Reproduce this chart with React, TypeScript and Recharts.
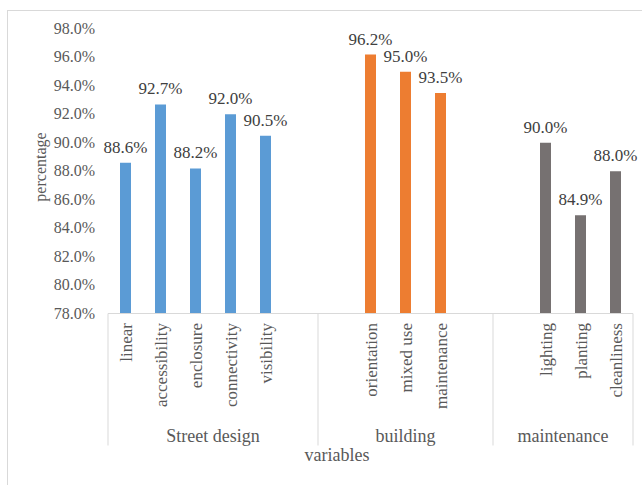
import React from 'react';
import { BarChart, Bar, XAxis, YAxis, Cell, LabelList } from 'recharts';

const categories = ['linear', 'accessibility', 'enclosure', 'connectivity', 'visibility', '', '', 'orientation', 'mixed use', 'maintenance', '', '', 'lighting', 'planting', 'cleanliness'];
const values: (number | null)[] = [0.886, 0.927, 0.882, 0.920, 0.905, null, null, 0.962, 0.950, 0.935, null, null, 0.900, 0.849, 0.880];
const groupOf = [0, 0, 0, 0, 0, 0, 1, 1, 1, 1, 1, 2, 2, 2, 2];
const groupNames = ['Street design', 'building', 'maintenance'];
const groupColors = ['#5B9BD5', '#ED7D31', '#767171'];
const yTicks = [0.78, 0.80, 0.82, 0.84, 0.86, 0.88, 0.90, 0.92, 0.94, 0.96, 0.98];

const data = categories.map((name, i) => ({ id: `c${i}`, name, value: values[i], group: groupOf[i] }));

const FONT = '"Liberation Serif", "Times New Roman", serif';
const TXT = '#595959';
const LINE = '#D9D9D9';

const pct = (v: number) => `${(v * 100).toFixed(1)}%`;

const YTick = (props: any) => {
  const { y, payload } = props;
  return (
    <text x={95} y={y} dy={5} textAnchor="end" fontFamily={FONT} fontSize={16} fill={TXT}>
      {pct(payload.value)}
    </text>
  );
};

const XTick = (props: any) => {
  const { x, y, payload, index } = props;
  const half = payload && payload.offset ? payload.offset : 17.5;
  const name = categories[index];
  const g = groupOf[index];
  const isFirst = index === 0 || groupOf[index - 1] !== g;
  const isLast = index === categories.length - 1;
  const lineBottom = y + 132;
  let groupLabel = null;
  if (isFirst) {
    const n = groupOf.filter((v) => v === g).length;
    const cx = x - half + n * half;
    groupLabel = (
      <text x={cx} y={y + 128} textAnchor="middle" fontFamily={FONT} fontSize={18} fill={TXT}>
        {groupNames[g]}
      </text>
    );
  }
  return (
    <g>
      {name ? (
        <text
          transform={`translate(${x + 6},${y + 9.5}) rotate(-90)`}
          textAnchor="end"
          fontFamily={FONT}
          fontSize={17}
          fill={TXT}
        >
          {name}
        </text>
      ) : null}
      {isFirst ? <line x1={x - half} x2={x - half} y1={y} y2={lineBottom} stroke={LINE} strokeWidth={1} /> : null}
      {isLast ? <line x1={x + half} x2={x + half} y1={y} y2={lineBottom} stroke={LINE} strokeWidth={1} /> : null}
      {groupLabel}
    </g>
  );
};

const ValueLabel = (props: any) => {
  const { x, y, width, value } = props;
  if (value == null) return null;
  return (
    <text x={x + width / 2} y={y - 10} textAnchor="middle" fontFamily={FONT} fontSize={17} fill="#404040">
      {pct(value)}
    </text>
  );
};

export default function App() {
  return (
    <div style={{ position: 'absolute', left: 0, top: 0, width: 642, height: 485, background: '#fff' }}>
      <svg width={642} height={485} style={{ position: 'absolute', left: 0, top: 0 }}>
        <rect x={7.5} y={10.5} width={700} height={500} fill="none" stroke="#D9D9D9" strokeWidth={1} />
        <text x={337} y={461} textAnchor="middle" fontFamily={FONT} fontSize={18} fill={TXT}>variables</text>
        <text transform="translate(46,167) rotate(-90)" textAnchor="middle" fontFamily={FONT} fontSize={16} fill={TXT}>percentage</text>
      </svg>
      <div style={{ position: 'absolute', left: 0, top: 0 }}>
        <BarChart width={642} height={485} data={data} margin={{ top: 29, right: 9, left: 0, bottom: 0 }}>
          <YAxis
            type="number"
            domain={[0.78, 0.98]}
            ticks={yTicks}
            width={108}
            axisLine={false}
            tickLine={false}
            tick={YTick}
            interval={0}
          />
          <XAxis
            dataKey="id"
            type="category"
            height={171.5}
            interval={0}
            axisLine={{ stroke: LINE }}
            tickLine={false}
            tickSize={0}
            tickMargin={0}
            tick={XTick}
          />
          <Bar dataKey="value" barSize={11} isAnimationActive={false}>
            {data.map((d) => (
              <Cell key={d.id} fill={groupColors[d.group]} />
            ))}
            <LabelList dataKey="value" content={ValueLabel} />
          </Bar>
        </BarChart>
      </div>
    </div>
  );
}
